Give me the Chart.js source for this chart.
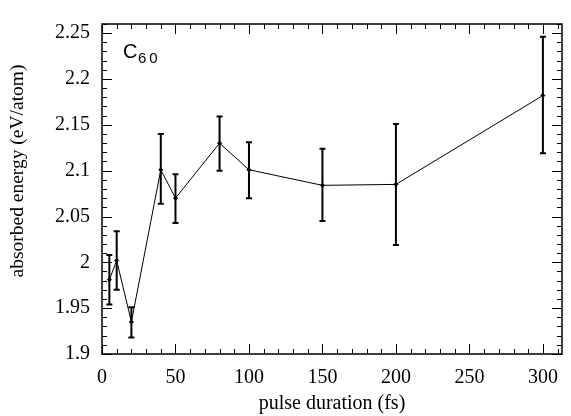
<!DOCTYPE html>
<html>
<head>
<meta charset="utf-8">
<script src="https://cdn.jsdelivr.net/npm/chart.js@4/dist/chart.umd.min.js"></script>
<style>
  body { margin: 0; background: #fff; }
  canvas { display: block; }
</style>
</head>
<body>
<canvas id="chart" width="571" height="416"></canvas>
<script>
const pulse = [5, 10, 20, 40, 50, 80, 100, 150, 200, 300];
const energy = [1.981, 2.002, 1.935, 2.101, 2.070, 2.130, 2.101, 2.084, 2.085, 2.182];
const errLow = [1.954, 1.970, 1.918, 2.064, 2.043, 2.100, 2.070, 2.045, 2.019, 2.119];
const errHigh = [2.008, 2.034, 1.951, 2.140, 2.096, 2.159, 2.131, 2.124, 2.151, 2.246];

const xTicks = [0, 50, 100, 150, 200, 250, 300];
const yTicks = [1.9, 1.95, 2, 2.05, 2.1, 2.15, 2.2, 2.25];

const serif = '"Liberation Serif", "Times New Roman", serif';

// error bars drawn through the scales
const errorBars = {
    id: 'errorBars',
    afterDatasetsDraw(chart) {
        const ctx = chart.ctx;
        const x = chart.scales.x;
        const y = chart.scales.y;
        ctx.save();
        ctx.strokeStyle = '#000';
        ctx.lineWidth = 2;
        for (let i = 0; i < pulse.length; i++) {
            let px = x.getPixelForValue(pulse[i]);
            let lo = y.getPixelForValue(errLow[i]);
            let hi = y.getPixelForValue(errHigh[i]);
            ctx.beginPath();
            ctx.moveTo(px, lo);
            ctx.lineTo(px, hi);
            ctx.moveTo(px - 3, lo);
            ctx.lineTo(px + 3, lo);
            ctx.moveTo(px - 3, hi);
            ctx.lineTo(px + 3, hi);
            ctx.stroke();
        }
        ctx.restore();
    }
};

// frame with inward ticks on all four sides, the y title and the C60 label
const frame = {
    id: 'frame',
    afterDraw(chart) {
        const ctx = chart.ctx;
        const a = chart.chartArea;
        const x = chart.scales.x;
        const y = chart.scales.y;
        ctx.save();
        ctx.strokeStyle = '#000';
        ctx.lineWidth = 1;

        ctx.beginPath();
        for (let v = 0; v <= x.max; v += 10) {
            let px = Math.round(x.getPixelForValue(v)) + 0.5;
            let len = v % 50 === 0 ? 10 : 5;
            ctx.moveTo(px, a.bottom);
            ctx.lineTo(px, a.bottom - len);
            ctx.moveTo(px, a.top);
            ctx.lineTo(px, a.top + len);
        }
        for (let k = 0; k <= 36; k++) {
            let v = 1.9 + k * 0.01;
            let py = Math.round(y.getPixelForValue(v)) + 0.5;
            let len = k % 5 === 0 ? 10 : 5;
            ctx.moveTo(a.left, py);
            ctx.lineTo(a.left + len, py);
            ctx.moveTo(a.right, py);
            ctx.lineTo(a.right - len, py);
        }
        ctx.stroke();

        ctx.lineWidth = 1.5;
        ctx.strokeRect(a.left, a.top, a.right - a.left, a.bottom - a.top);

        ctx.fillStyle = '#000';

        // y axis title, sits a bit above the axis centre in the original
        ctx.save();
        ctx.translate(18, 171);
        ctx.rotate(-Math.PI / 2);
        ctx.textAlign = 'center';
        ctx.textBaseline = 'middle';
        ctx.font = '19.5px ' + serif;
        ctx.fillText('absorbed energy (eV/atom)', 0, 0);
        ctx.restore();

        ctx.textBaseline = 'alphabetic';
        ctx.font = '20px "Liberation Sans", "DejaVu Sans", sans-serif';
        ctx.fillText('C', a.left + 21, a.top + 34);
        ctx.font = '15px "Liberation Sans", "DejaVu Sans", sans-serif';
        ctx.letterSpacing = '3px';
        ctx.fillText('60', a.left + 36, a.top + 39);
        ctx.restore();
    }
};

new Chart(document.getElementById('chart'), {
    type: 'scatter',
    data: {
        datasets: [{
            data: pulse.map((p, i) => ({ x: p, y: energy[i] })),
            showLine: true,
            borderColor: '#000',
            backgroundColor: '#000',
            borderWidth: 1,
            pointRadius: 2,
            pointStyle: 'rectRot',
            tension: 0
        }]
    },
    options: {
        responsive: false,
        animation: false,
        devicePixelRatio: 1,
        layout: { padding: { top: 14, right: 9, left: 0, bottom: 0 } },
        plugins: { legend: { display: false }, tooltip: { enabled: false } },
        scales: {
            x: {
                type: 'linear',
                min: 0,
                max: 313,
                afterBuildTicks: s => { s.ticks = xTicks.map(v => ({ value: v })); },
                afterFit: s => { s.height = 62; },
                grid: { display: false, drawTicks: false },
                border: { display: false },
                ticks: { color: '#000', font: { family: serif, size: 20 }, padding: 12, maxRotation: 0 },
                title: { display: true, text: 'pulse duration (fs)', color: '#000', font: { family: serif, size: 20 }, padding: 0 }
            },
            y: {
                type: 'linear',
                min: 1.9,
                max: 2.26,
                afterBuildTicks: s => { s.ticks = yTicks.map(v => ({ value: v })); },
                afterFit: s => { s.width = 102; },
                grid: { display: false, drawTicks: false },
                border: { display: false },
                ticks: { color: '#000', font: { family: serif, size: 20 }, padding: 12, callback: v => String(v) },
                title: { display: false }
            }
        }
    },
    plugins: [errorBars, frame]
});
</script>
</body>
</html>
